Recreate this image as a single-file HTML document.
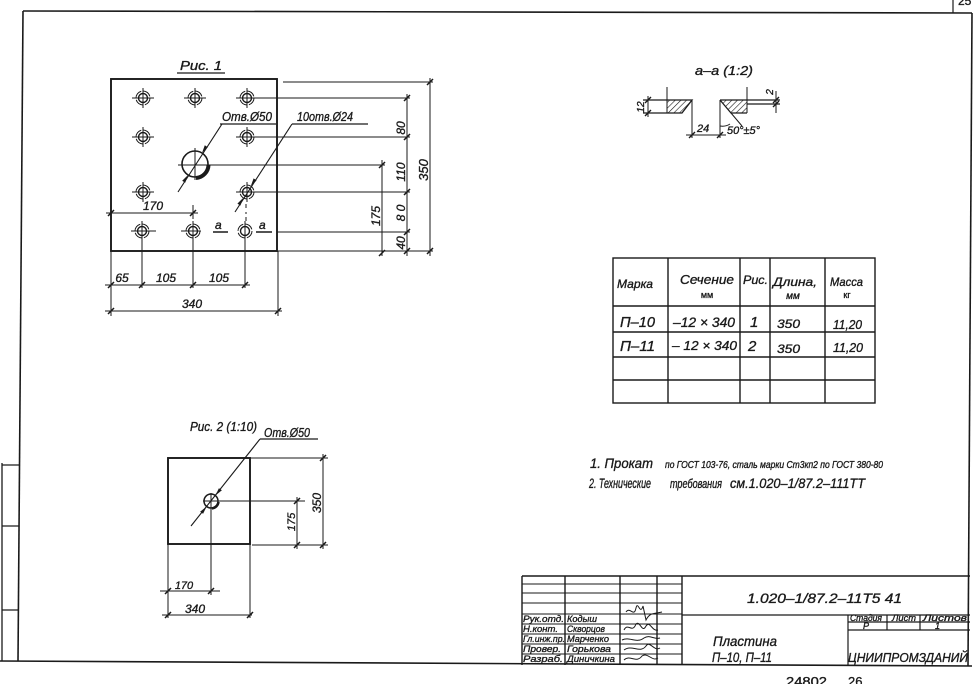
<!DOCTYPE html>
<html><head><meta charset="utf-8">
<style>
html,body{margin:0;padding:0;background:#fff;}
svg{display:block;}
text{font-family:"Liberation Sans","DejaVu Sans",sans-serif;font-style:italic;fill:#1a1a1a;stroke:#1a1a1a;stroke-width:0.35;}
.n{font-style:normal;}
</style></head><body>
<svg width="979" height="684" viewBox="0 0 979 684" xmlns="http://www.w3.org/2000/svg">
<defs>
<pattern id="hp" width="4" height="4" patternUnits="userSpaceOnUse" patternTransform="rotate(45)">
<line x1="0" y1="0" x2="0" y2="4" stroke="#1a1a1a" stroke-width="1.2"/>
</pattern>
</defs>

<!-- FRAME -->
<g stroke="#1a1a1a" fill="none" stroke-width="1.6">
<line x1="23" y1="11" x2="972" y2="13"/>
<line x1="953" y1="0" x2="953" y2="13" stroke-width="1.2"/>
<line x1="972" y1="13" x2="968" y2="666"/>
<line x1="23" y1="11" x2="18" y2="661"/>
<line x1="0" y1="661" x2="972" y2="666"/>
<line x1="2" y1="463" x2="2" y2="661" stroke-width="1.3"/>
<line x1="2" y1="465" x2="19" y2="465" stroke-width="1.3"/>
<line x1="2" y1="526" x2="19" y2="526" stroke-width="1.3"/>
<line x1="2" y1="610" x2="19" y2="610" stroke-width="1.3"/>
</g>
<text class="n" x="958" y="5" font-size="12">25</text>

<!-- FIG 1 -->
<text x="180" y="70" font-size="13" textLength="42" lengthAdjust="spacingAndGlyphs">Рис. 1</text>
<line x1="177" y1="73" x2="225" y2="73" stroke="#1a1a1a" stroke-width="1.3"/>
<rect x="111" y="79" width="166" height="172" fill="none" stroke="#1a1a1a" stroke-width="1.9"/>

<g stroke="#1a1a1a" fill="none">
<g transform="translate(143,98)"><circle r="4.5" stroke-width="1.4"/><circle r="7" stroke-width="1" stroke-dasharray="9 2"/><path d="M-11 0H11M0-10V10" stroke-width="1"/></g>
<g transform="translate(195,98)"><circle r="4.5" stroke-width="1.4"/><circle r="7" stroke-width="1" stroke-dasharray="9 2"/><path d="M-11 0H11M0-10V10" stroke-width="1"/></g>
<g transform="translate(247,98)"><circle r="4.5" stroke-width="1.4"/><circle r="7" stroke-width="1" stroke-dasharray="9 2"/><path d="M-11 0H5M0-10V10" stroke-width="1"/></g>
<g transform="translate(143,137)"><circle r="4.5" stroke-width="1.4"/><circle r="7" stroke-width="1" stroke-dasharray="9 2"/><path d="M-11 0H11M0-10V10" stroke-width="1"/></g>
<g transform="translate(247,137)"><circle r="4.5" stroke-width="1.4"/><circle r="7" stroke-width="1" stroke-dasharray="9 2"/><path d="M-11 0H5M0-10V10" stroke-width="1"/></g>
<g transform="translate(143,192)"><circle r="4.5" stroke-width="1.4"/><circle r="7" stroke-width="1" stroke-dasharray="9 2"/><path d="M-11 0H11M0-10V10" stroke-width="1"/></g>
<g transform="translate(247,192)"><circle r="4.5" stroke-width="1.4"/><circle r="7" stroke-width="1" stroke-dasharray="9 2"/><path d="M-11 0H5M0-10V10" stroke-width="1"/></g>
<g transform="translate(142,231)"><circle r="4.5" stroke-width="1.4"/><circle r="7" stroke-width="1" stroke-dasharray="9 2"/><path d="M-11 0H14M0-10V10" stroke-width="1"/></g>
<g transform="translate(193,231)"><circle r="4.5" stroke-width="1.4"/><circle r="7" stroke-width="1" stroke-dasharray="9 2"/><path d="M-12 0H8M0-10V10" stroke-width="1"/></g>
<g transform="translate(245,231)"><circle r="4.5" stroke-width="1.4"/><circle r="7" stroke-width="1" stroke-dasharray="9 2"/><path d="M0-10V10" stroke-width="1"/></g>

<circle cx="195" cy="164" r="13" stroke-width="1.6"/>
<path d="M208.5 165 A13.5 13.5 0 0 1 196 178" stroke-width="4"/>
<line x1="195" y1="148" x2="195" y2="180" stroke-width="1"/>
<line x1="178" y1="165" x2="385" y2="165" stroke-width="1"/>

<line x1="222" y1="124" x2="178" y2="192" stroke-width="1.1"/>
<line x1="220" y1="124" x2="276" y2="124" stroke-width="1.3"/>
<line x1="292" y1="124" x2="235" y2="212" stroke-width="1.1"/>
<line x1="292" y1="124" x2="368" y2="124" stroke-width="1.3"/>

<path d="M283 82H433 M252 98H410 M252 137H410 M252 192H410 M277 232H410 M278 251H433" stroke-width="1"/>
<path d="M382 160V256 M407 94V256 M430 78V256" stroke-width="1"/>
<path d="M379 168L385 162 M379 256L385 250 M404 101L410 95 M404 140L410 134 M404 195L410 189 M404 235L410 229 M404 254L410 248 M427 85L433 79 M427 254L433 248" stroke-width="1.5"/>

<path d="M111 251V316 M142 240V288 M193 240V288 M245 240V288 M278 251V316" stroke-width="1"/>
<path d="M105 285H250 M105 311H282" stroke-width="1"/>
<path d="M108 288L114 282 M139 288L145 282 M190 288L196 282 M242 288L248 282 M108 314L114 308 M275 314L281 308" stroke-width="1.5"/>
<path d="M106 213H198 M193 205V219" stroke-width="1"/>
<path d="M108 216L114 210 M190 216L196 210" stroke-width="1.5"/>
<path d="M213 232H228 M256 232H272" stroke-width="1.4"/>
<path d="M246 204V208 M246 212V214 M246 217V221" stroke-width="1"/>
</g>
<g fill="#1a1a1a">
<polygon points="202,153 204.8,145.3 207.8,147.3"/>
<polygon points="188,175 185.2,182.7 182.2,180.7"/>
<polygon points="250.8,186.1 253.6,178.4 256.6,180.4"/>
<polygon points="243.2,197.9 240.4,205.6 237.4,203.6"/>
</g>
<text x="222" y="121" font-size="13" textLength="50" lengthAdjust="spacingAndGlyphs">Отв.Ø50</text>
<text x="297" y="121" font-size="13" textLength="56" lengthAdjust="spacingAndGlyphs">10отв.Ø24</text>
<text x="215" y="229" font-size="12">а</text>
<text x="259" y="229" font-size="12">а</text>
<text x="153" y="210" font-size="12" text-anchor="middle">170</text>
<text x="122" y="282" font-size="12" text-anchor="middle">65</text>
<text x="166" y="282" font-size="12" text-anchor="middle">105</text>
<text x="219" y="282" font-size="12" text-anchor="middle">105</text>
<text x="192" y="308" font-size="12" text-anchor="middle">340</text>
<text transform="translate(405,128) rotate(-90)" font-size="12" text-anchor="middle">80</text>
<text transform="translate(405,172) rotate(-90)" font-size="12" text-anchor="middle">110</text>
<text transform="translate(405,213) rotate(-90)" font-size="12" text-anchor="middle">8 0</text>
<text transform="translate(405,243) rotate(-90)" font-size="12" text-anchor="middle">40</text>
<text transform="translate(380,216) rotate(-90)" font-size="12" text-anchor="middle">175</text>
<text transform="translate(428,170) rotate(-90)" font-size="13" text-anchor="middle">350</text>

<!-- SECTION a-a -->
<text x="695" y="75" font-size="13" textLength="58" lengthAdjust="spacingAndGlyphs">а–а (1:2)</text>
<polygon points="667,100 692,100 682,113 667,113" fill="url(#hp)"/>
<polygon points="720,100 747,100 747,113 731,113" fill="url(#hp)"/>
<g stroke="#1a1a1a" fill="none" stroke-width="1.3">
<path d="M643 100H692 L682 113 H643"/>
<path d="M667 87V113 M747 87V113" stroke-width="1"/>
<path d="M692 100V138 M720 100V138" stroke-width="1"/>
<path d="M720 100H780 M720 100 L731 113 H747 M747 104H780"/>
<path d="M731 113 L742 126" stroke-width="1"/>
<path d="M720 126 A 14 14 0 0 0 730 124" stroke-width="1"/>
<path d="M686 135H726" stroke-width="1"/>
<path d="M689 138L695 132 M717 138L723 132" stroke-width="1.4"/>
<path d="M648 96V117" stroke-width="1"/>
<path d="M645 103L651 97 M645 116L651 110" stroke-width="1.4"/>
<path d="M776 91V113" stroke-width="1"/>
<path d="M773 103L779 97 M773 107L779 101" stroke-width="1.4"/>
</g>
<text x="697" y="132" font-size="11">24</text>
<text x="727" y="134" font-size="11" textLength="33" lengthAdjust="spacingAndGlyphs">50°±5°</text>
<text transform="translate(644,107) rotate(-90)" font-size="10" text-anchor="middle">12</text>
<text transform="translate(773,92) rotate(-90)" font-size="10" text-anchor="middle">2</text>

<!-- TABLE -->
<g stroke="#1a1a1a" fill="none" stroke-width="1.4">
<rect x="613" y="258" width="262" height="145"/>
<path d="M668 258V403 M740 258V403 M770 258V403 M825 258V403"/>
<path d="M613 306H875 M613 332H875 M613 357H875 M613 380H875"/>
</g>
<text x="617" y="288" font-size="12" textLength="36" lengthAdjust="spacingAndGlyphs">Марка</text>
<text x="680" y="284" font-size="13" textLength="54" lengthAdjust="spacingAndGlyphs">Сечение</text>
<text class="n" x="707" y="298" font-size="9" text-anchor="middle">мм</text>
<text x="743" y="284" font-size="12" textLength="25" lengthAdjust="spacingAndGlyphs">Рис.</text>
<text x="773" y="286" font-size="12" textLength="44" lengthAdjust="spacingAndGlyphs">Длина,</text>
<text x="793" y="299" font-size="10" text-anchor="middle">мм</text>
<text x="830" y="286" font-size="12" textLength="33" lengthAdjust="spacingAndGlyphs">Масса</text>
<text class="n" x="847" y="298" font-size="9" text-anchor="middle">кг</text>
<text x="620" y="327" font-size="15" textLength="35" lengthAdjust="spacingAndGlyphs">П–10</text>
<text x="673" y="327" font-size="14" textLength="62" lengthAdjust="spacingAndGlyphs">–12 × 340</text>
<text x="750" y="327" font-size="15">1</text>
<text x="777" y="328" font-size="12" textLength="23" lengthAdjust="spacingAndGlyphs">350</text>
<text x="833" y="329" font-size="13" textLength="29" lengthAdjust="spacingAndGlyphs">11,20</text>
<text x="620" y="351" font-size="15" textLength="35" lengthAdjust="spacingAndGlyphs">П–11</text>
<text x="672" y="350" font-size="13" textLength="65" lengthAdjust="spacingAndGlyphs">– 12 × 340</text>
<text x="748" y="351" font-size="15">2</text>
<text x="777" y="353" font-size="12" textLength="23" lengthAdjust="spacingAndGlyphs">350</text>
<text x="833" y="352" font-size="13" textLength="30" lengthAdjust="spacingAndGlyphs">11,20</text>

<!-- NOTES -->
<text x="590" y="468" font-size="14" textLength="63" lengthAdjust="spacingAndGlyphs">1. Прокат</text>
<text x="665" y="468" font-size="10" textLength="218" lengthAdjust="spacingAndGlyphs">по ГОСТ 103-76, сталь марки Ст3кп2 по ГОСТ 380-80</text>
<text x="589" y="488" font-size="14" textLength="62" lengthAdjust="spacingAndGlyphs">2. Технические</text>
<text x="670" y="488" font-size="13" textLength="52" lengthAdjust="spacingAndGlyphs">требования</text>
<text x="730" y="488" font-size="14" textLength="135" lengthAdjust="spacingAndGlyphs">см.1.020–1/87.2–111ТТ</text>

<!-- FIG 2 -->
<text x="190" y="431" font-size="13" textLength="67" lengthAdjust="spacingAndGlyphs">Рис. 2 (1:10)</text>
<text x="264" y="437" font-size="13" textLength="46" lengthAdjust="spacingAndGlyphs">Отв.Ø50</text>
<g stroke="#1a1a1a" fill="none">
<line x1="260" y1="439" x2="318" y2="439" stroke-width="1.3"/>
<rect x="168" y="458" width="82" height="86" stroke-width="1.9"/>
<circle cx="211" cy="501" r="7" stroke-width="1.5"/>
<path d="M218.5 502 A7.5 7.5 0 0 1 212 508.5" stroke-width="2.5"/>
<path d="M203 501H305 M211 493V595" stroke-width="1"/>
<line x1="260" y1="439" x2="191" y2="526" stroke-width="1.1"/>
<path d="M250 458H328 M252 545H328" stroke-width="1"/>
<path d="M297 497V549 M323 454V549" stroke-width="1"/>
<path d="M294 504L300 498 M294 548L300 542 M320 461L326 455 M320 548L326 542" stroke-width="1.5"/>
<path d="M168 544V618 M250 544V618" stroke-width="1"/>
<path d="M160 591H220 M162 615H252" stroke-width="1"/>
<path d="M165 594L171 588 M208 594L214 588 M165 618L171 612 M247 618L253 612" stroke-width="1.5"/>
</g>
<g fill="#1a1a1a">
<polygon points="215.4,495.5 218.9,488.2 221.9,490.2"/>
<polygon points="206.6,506.5 203.1,513.8 200.1,511.8"/>
</g>
<text transform="translate(295,522) rotate(-90)" font-size="11" text-anchor="middle">175</text>
<text transform="translate(321,503) rotate(-90)" font-size="12" text-anchor="middle">350</text>
<text x="184" y="589" font-size="11" text-anchor="middle">170</text>
<text x="195" y="613" font-size="12" text-anchor="middle">340</text>

<!-- TITLE BLOCK -->
<g stroke="#1a1a1a" fill="none" stroke-width="1.4">
<path d="M522 576H970 M522 576V665"/>
<path d="M565 576V665 M620 576V665 M657 576V665 M682 576V665"/>
<path d="M522 584H682 M522 593H682 M522 603H682 M522 614H682 M522 624H682 M522 634H682 M522 644H682 M522 654H682" stroke-width="1.1"/>
<path d="M682 615H970 M848 615V665 M848 622H970 M848 630H970 M887 615V630 M920 615V630" stroke-width="1.2"/>
</g>
<text x="747" y="603" font-size="14" textLength="155" lengthAdjust="spacingAndGlyphs">1.020–1/87.2–11Т5 41</text>
<text x="713" y="646" font-size="14" textLength="64" lengthAdjust="spacingAndGlyphs">Пластина</text>
<text x="712" y="662" font-size="14" textLength="60" lengthAdjust="spacingAndGlyphs">П–10, П–11</text>
<text x="850" y="621" font-size="9" textLength="32" lengthAdjust="spacingAndGlyphs">Стадия</text>
<text x="892" y="621" font-size="9" textLength="24" lengthAdjust="spacingAndGlyphs">Лист</text>
<text x="923" y="621" font-size="9" textLength="44" lengthAdjust="spacingAndGlyphs">Листов</text>
<text x="863" y="629" font-size="9">Р</text>
<text x="935" y="629" font-size="9">1</text>
<text x="848" y="662" font-size="13" textLength="120" lengthAdjust="spacingAndGlyphs">ЦНИИПРОМЗДАНИЙ</text>
<g font-size="9.5">
<text x="523" y="622" textLength="41" lengthAdjust="spacingAndGlyphs">Рук.отд.</text>
<text x="523" y="632" textLength="35" lengthAdjust="spacingAndGlyphs">Н.конт.</text>
<text x="523" y="642" textLength="42" lengthAdjust="spacingAndGlyphs">Гл.инж.пр.</text>
<text x="523" y="652" textLength="38" lengthAdjust="spacingAndGlyphs">Провер.</text>
<text x="523" y="662" textLength="40" lengthAdjust="spacingAndGlyphs">Разраб.</text>
<text x="567" y="622" textLength="30" lengthAdjust="spacingAndGlyphs">Кодыш</text>
<text x="567" y="632" textLength="38" lengthAdjust="spacingAndGlyphs">Скворцов</text>
<text x="567" y="642" textLength="42" lengthAdjust="spacingAndGlyphs">Марченко</text>
<text x="567" y="652" textLength="44" lengthAdjust="spacingAndGlyphs">Горькова</text>
<text x="567" y="662" textLength="48" lengthAdjust="spacingAndGlyphs">Диничкина</text>
</g>
<g stroke="#1a1a1a" fill="none" stroke-width="1">
<path d="M626 612 C630 606 634 618 636 608 C638 600 640 616 643 606 L646 620 C650 612 654 614 662 612"/>
<path d="M624 630 C628 622 632 634 636 624 C640 620 642 634 646 626 C650 620 652 632 658 630"/>
<path d="M622 640 C630 636 636 644 644 638 C650 634 654 640 660 638"/>
<path d="M624 650 C632 644 640 654 646 646 C650 640 654 652 660 648"/>
<path d="M624 660 C630 654 636 664 642 656 C648 652 652 662 658 658"/>
</g>
<text class="n" x="786" y="686" font-size="13" textLength="41" lengthAdjust="spacingAndGlyphs">24802</text>
<text class="n" x="848" y="686" font-size="13">26</text>
</svg>
</body></html>
